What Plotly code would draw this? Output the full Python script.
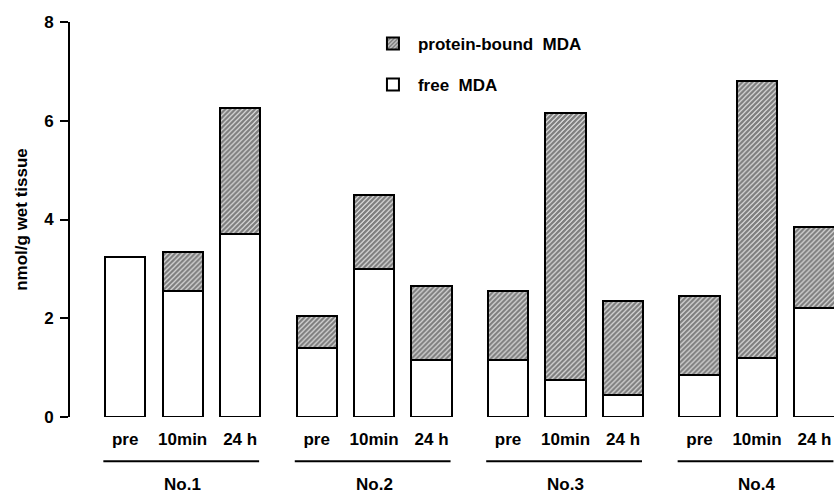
import plotly.graph_objects as go

# Samples and sampling times
groups = ["No.1", "No.2", "No.3", "No.4"]
times = ["pre", "10min", "24 h"]

# MDA content, nmol/g wet tissue (one value per sample/time, in order)
free_mda = [3.25, 2.55, 3.7, 1.4, 3.0, 1.15, 1.15, 0.75, 0.45, 0.85, 1.2, 2.2]
bound_mda = [0.0, 0.8, 2.55, 0.65, 1.5, 1.5, 1.4, 5.4, 1.9, 1.6, 5.6, 1.65]

y_ticks = [0, 2, 4, 6, 8]

GAP = 3.33   # spacing between sample groups, in bar slots
BAR_W = 0.7

xs = [g * GAP + i for g in range(len(groups)) for i in range(len(times))]
tick_text = [t for _ in groups for t in times]

font_family = "Liberation Sans, Arial, sans-serif"
outline = dict(color="black", width=2)

fig = go.Figure()
fig.add_trace(go.Bar(
    x=xs, y=free_mda, name="free  MDA", width=BAR_W,
    marker=dict(color="white", line=outline),
    legendgroup="free", legendrank=2,
))
fig.add_trace(go.Bar(
    x=xs, y=bound_mda, name="protein-bound  MDA", width=BAR_W,
    marker=dict(color="white", line=outline,
                pattern=dict(shape="/", fgcolor="black", bgcolor="white",
                             size=3.5, solidity=0.75)),
    legendgroup="bound", legendrank=1,
))

# Underline and label for each sample group
for g, name in enumerate(groups):
    x0 = g * GAP - 0.38
    x1 = g * GAP + 2 + 0.33
    fig.add_shape(type="line", xref="x", yref="paper", x0=x0, x1=x1,
                  y0=-0.112, y1=-0.112, line=dict(color="black", width=2))
    fig.add_annotation(x=g * GAP + 1, y=-0.17, xref="x", yref="paper",
                       xanchor="center", yanchor="middle",
                       text=f"<b>{name}</b>", showarrow=False,
                       font=dict(size=17, color="black", family=font_family))

fig.update_layout(
    width=834, height=498,
    margin=dict(l=70, r=0, t=22, b=81),
    paper_bgcolor="white", plot_bgcolor="white",
    barmode="stack",
    bargap=0,
    showlegend=True,
    legend=dict(x=0.39, y=0.99, xanchor="left", yanchor="top",
                traceorder="grouped", tracegroupgap=16,
                font=dict(size=17, color="black", family=font_family, weight="bold"),
                bgcolor="rgba(0,0,0,0)", itemwidth=40),
    font=dict(family=font_family, color="black"),
    xaxis=dict(
        range=[-0.96, 12.33],
        tickvals=xs, ticktext=[f"<b>{t}</b>" for t in tick_text],
        tickfont=dict(size=17, color="black"),
        showline=False, showgrid=False, zeroline=False,
        ticks="", ticklabelstandoff=10,
    ),
    yaxis=dict(
        range=[0, 8],
        tickvals=y_ticks, ticktext=[f"<b>{v}</b>" for v in y_ticks],
        tickfont=dict(size=17, color="black"),
        showline=True, linecolor="black", linewidth=2,
        ticks="outside", ticklen=8, tickwidth=2, tickcolor="black",
        ticklabelstandoff=3,
        showgrid=False, zeroline=False,
        title=dict(text="<b>nmol/g wet tissue</b>",
                   font=dict(size=17, color="black"), standoff=12),
    ),
)

fig.write_html("out.html")
